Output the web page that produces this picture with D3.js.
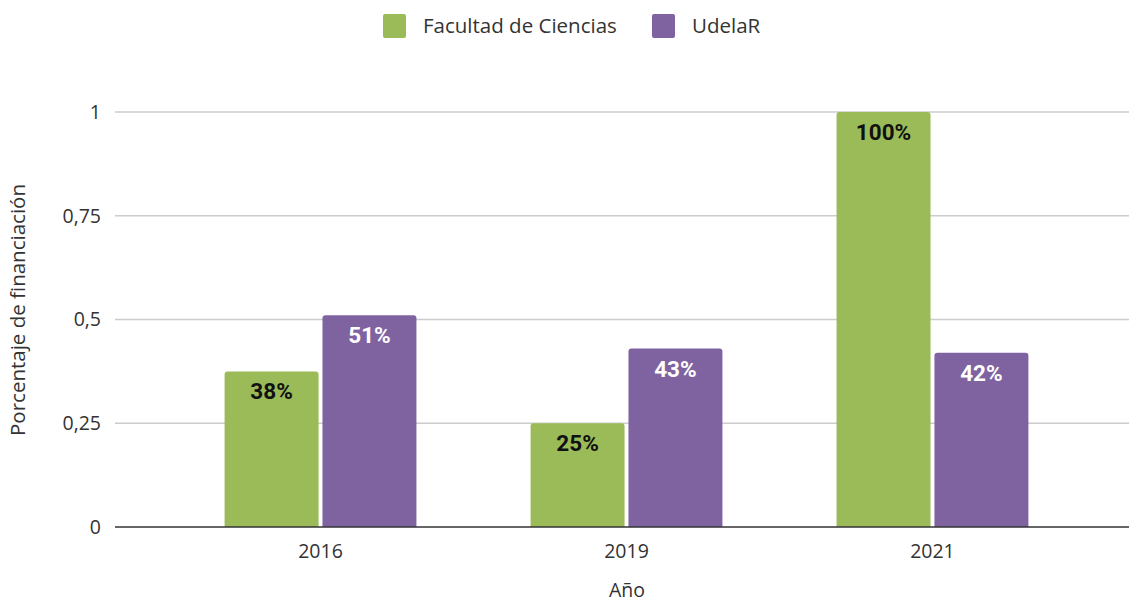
<!DOCTYPE html>
<html><head><meta charset="utf-8">
<script src="https://cdn.jsdelivr.net/npm/d3@7"></script>
<style>body{margin:0;background:#fff}</style>
</head><body><svg id="c" width="1129" height="605" style="font-family:'Open Sans',sans-serif"></svg>
<script>
const years = ["2016","2019","2021"];
const seriesNames = ["Facultad de Ciencias","UdelaR"];
const facultad = [0.375, 0.25, 1.0];
const udelar = [0.51, 0.43, 0.42];
const facultadLabels = ["38%","25%","100%"];
const udelarLabels = ["51%","43%","42%"];
const yTicks = [0, 0.25, 0.5, 0.75, 1];
const yTickLabels = ["0","0,25","0,5","0,75","1"];
const colors = ["#9bbb59","#7f63a1"];

const svg = d3.select("#c");
const mLeft = 115, mRight = 1131, mTop = 112, mBottom = 527;
const y = d3.scaleLinear().domain([0,1]).range([mBottom, mTop]);
const x = d3.scaleBand().domain(years).range([117.5, 1135.5]).paddingInner(0.373).paddingOuter(0.35);
const x1 = d3.scaleBand().domain(seriesNames).range([0, x.bandwidth()]).paddingInner(0.04);

// grid
svg.append("g").selectAll("line").data(yTicks.filter(d=>d>0)).join("line")
  .attr("x1", mLeft).attr("x2", mRight).attr("y1", d=>y(d)).attr("y2", d=>y(d))
  .attr("stroke", "#cccccc").attr("stroke-width", 1.5);

// y labels
svg.append("g").selectAll("text").data(yTicks).join("text")
  .attr("x", 101).attr("y", d=>y(d)).attr("dy", "0.35em").attr("text-anchor", "end")
  .attr("font-size", 19.5).attr("fill", "#333").text((d,i)=>yTickLabels[i]);

const data = years.map((yr,i)=>({year:yr, vals:[
  {s:seriesNames[0], v:facultad[i], l:facultadLabels[i], c:colors[0], tc:"#111"},
  {s:seriesNames[1], v:udelar[i], l:udelarLabels[i], c:colors[1], tc:"#fff"}]}));

const g = svg.append("g").selectAll("g").data(data).join("g")
  .attr("transform", d=>`translate(${x(d.year)},0)`);
const r = 3;
g.selectAll("path").data(d=>d.vals).join("path")
  .attr("fill", d=>d.c)
  .attr("d", d=>{
    const x0 = x1(d.s), w = x1.bandwidth(), yt = y(d.v), yb = y(0);
    return `M${x0},${yb}V${yt+r}Q${x0},${yt} ${x0+r},${yt}H${x0+w-r}Q${x0+w},${yt} ${x0+w},${yt+r}V${yb}Z`;
  });
g.selectAll("text").data(d=>d.vals).join("text")
  .attr("x", d=>x1(d.s)+x1.bandwidth()/2).attr("y", d=>y(d.v)+28)
  .attr("text-anchor","middle").style("font-family","Roboto, sans-serif").attr("font-weight","bold")
  .attr("font-size", 22.5).attr("fill", d=>d.tc).text(d=>d.l);

// baseline
svg.append("line").attr("x1", mLeft).attr("x2", mRight).attr("y1", y(0)).attr("y2", y(0))
  .attr("stroke", "#333").attr("stroke-width", 1.5);

// x labels
svg.append("g").selectAll("text").data(years).join("text")
  .attr("x", d=>x(d)+x.bandwidth()/2).attr("y", 558).attr("text-anchor","middle")
  .attr("font-size", 19.5).attr("fill","#333").text(d=>d);

svg.append("text").attr("x", 627).attr("y", 597).attr("text-anchor","middle")
  .attr("font-size", 19.5).attr("fill","#333").text("Año");
svg.append("text").attr("transform","translate(25,310) rotate(-90)").attr("text-anchor","middle")
  .attr("font-size", 20.5).attr("fill","#333").text("Porcentaje de financiación");

// legend
const leg = [{n:seriesNames[0], c:colors[0], x:383},{n:seriesNames[1], c:colors[1], x:652}];
const lg = svg.append("g").selectAll("g").data(leg).join("g");
lg.append("rect").attr("x", d=>d.x).attr("y", 14).attr("width", 23).attr("height", 24).attr("rx", 2).attr("fill", d=>d.c);
lg.append("text").attr("x", d=>d.x+40).attr("y", 33).attr("font-size", 20.5).attr("fill","#333").text(d=>d.n);
</script></body></html>
